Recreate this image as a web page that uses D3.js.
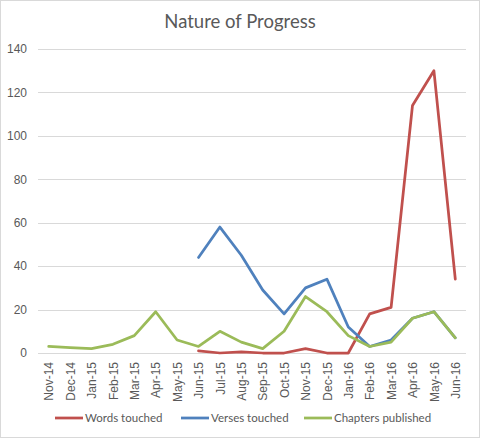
<!DOCTYPE html>
<html lang="en">
<head>
<meta charset="utf-8">
<title>Nature of Progress</title>
<script src="https://cdn.jsdelivr.net/npm/d3@7"></script>
<style>
  body { margin: 0; background: #fff; }
  svg { display: block; font-family: Lato, "Open Sans", sans-serif; }
  .axis text { fill: #595959; font-size: 12px; }
</style>
</head>
<body>
<script>
// categories and series
var months = ["Nov-14","Dec-14","Jan-15","Feb-15","Mar-15","Apr-15","May-15","Jun-15","Jul-15","Aug-15",
              "Sep-15","Oct-15","Nov-15","Dec-15","Jan-16","Feb-16","Mar-16","Apr-16","May-16","Jun-16"];
var wordsTouched = [null,null,null,null,null,null,null,1,0,0.5,0,0,2,0,0,18,21,114,130,34];
var versesTouched = [null,null,null,null,null,null,null,44,58,45,29,18,30,34,12,3,6,16,19,7];
var chaptersPublished = [3,2.5,2,4,8,19,6,3,10,5,2,10,26,19,8,3,5,16,19,7];
var yTicks = [0,20,40,60,80,100,120,140];

var seriesNames = ["Words touched", "Verses touched", "Chapters published"];
var seriesValues = [wordsTouched, versesTouched, chaptersPublished];
var colors = ["#c0504d", "#4f81bd", "#9bbb59"];

var w = 480, h = 438;
var plotLeft = 38, plotRight = 466, plotTop = 49, plotBottom = 353;

var svg = d3.select("body").append("svg")
  .attr("width", w)
  .attr("height", h);

// chart border
svg.append("rect")
  .attr("x", 0.5).attr("y", 0.5)
  .attr("width", w - 1).attr("height", h - 1)
  .attr("fill", "#fff")
  .attr("stroke", "#d9d9d9");

var x = d3.scalePoint().domain(months).range([plotLeft, plotRight]).padding(0.5);
var y = d3.scaleLinear().domain([0, 140]).range([plotBottom, plotTop]);

// title
svg.append("text")
  .attr("x", 240).attr("y", 28)
  .attr("text-anchor", "middle")
  .attr("fill", "#595959")
  .style("font-size", "18.5px")
  .text("Nature of Progress");

// gridlines
svg.append("g")
  .selectAll("line")
  .data(yTicks)
  .enter().append("line")
  .attr("x1", plotLeft).attr("x2", plotRight)
  .attr("y1", function(d) { return Math.round(y(d)) + 0.5; })
  .attr("y2", function(d) { return Math.round(y(d)) + 0.5; })
  .attr("stroke", "#d9d9d9");

// Y axis
var yAxis = d3.axisLeft(y).tickValues(yTicks).tickSize(0).tickPadding(11);
svg.append("g")
  .attr("class", "axis")
  .attr("transform", "translate(" + plotLeft + ",0)")
  .call(yAxis)
  .call(function(g) { g.select(".domain").remove(); });

// X axis
var xAxis = d3.axisBottom(x).tickSize(0).tickPadding(0);
svg.append("g")
  .attr("class", "axis")
  .attr("transform", "translate(0," + plotBottom + ")")
  .call(xAxis)
  .call(function(g) { g.select(".domain").remove(); })
  .selectAll("text")
  .attr("transform", "rotate(-90)")
  .attr("text-anchor", "end")
  .attr("x", -9)
  .attr("y", 0)
  .attr("dy", "0.35em");

// lines
var line = d3.line()
  .defined(function(d) { return d != null; })
  .x(function(d, i) { return x(months[i]); })
  .y(function(d) { return y(d); });

seriesValues.forEach(function(vals, k) {
  svg.append("path")
    .datum(vals)
    .attr("fill", "none")
    .attr("stroke", colors[k])
    .attr("stroke-width", 2.75)
    .attr("stroke-linejoin", "round")
    .attr("stroke-linecap", "round")
    .attr("d", line);
});

// legend
var legendX = [55, 181, 304];
var legend = svg.append("g").selectAll("g")
  .data(seriesNames)
  .enter().append("g")
  .attr("transform", function(d, i) { return "translate(" + legendX[i] + ",418)"; });

legend.append("line")
  .attr("x1", 0).attr("x2", 28)
  .attr("stroke", function(d, i) { return colors[i]; })
  .attr("stroke-width", 2.75);

legend.append("text")
  .attr("x", 30).attr("dy", "0.35em")
  .attr("fill", "#595959")
  .style("font-size", "11.5px")
  .text(function(d) { return d; });
</script>
</body>
</html>
